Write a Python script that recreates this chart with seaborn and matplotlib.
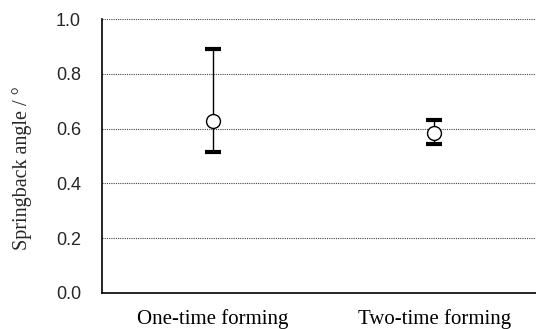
import numpy as np
import pandas as pd
import matplotlib
matplotlib.use('Agg')
import matplotlib.pyplot as plt
import seaborn as sns

# Data
methods = ['One-time forming', 'Two-time forming']
mean_angle = [0.628, 0.584]
upper_angle = [0.89, 0.631]
lower_angle = [0.515, 0.544]

df = pd.DataFrame({'Method': methods, 'Angle': mean_angle,
                   'Upper': upper_angle, 'Lower': lower_angle})

sns.set_theme(style='white')
plt.rcParams['font.family'] = ['Liberation Sans', 'DejaVu Sans']

fig, ax = plt.subplots(figsize=(5.36, 3.29), dpi=100)
fig.subplots_adjust(left=0.19, right=1.0, top=0.942, bottom=0.11)

# error bars (thin stem, thick caps)
pos = np.arange(len(df))
yerr = [df['Angle'] - df['Lower'], df['Upper'] - df['Angle']]
ax.errorbar(pos, df['Angle'], yerr=yerr, fmt='none', ecolor='black',
            elinewidth=1.0, capsize=5.5, capthick=3.0, zorder=3)

sns.scatterplot(data=df, x='Method', y='Angle', ax=ax, s=100, marker='o',
                facecolor='white', edgecolor='black', linewidth=1.0, zorder=4)

ax.set_ylim(0, 1.0)
ax.set_xlim(-0.5, 1.46)
ax.set_yticks([0.0, 0.2, 0.4, 0.6, 0.8, 1.0])
ax.set_yticklabels(['0.0', '0.2', '0.4', '0.6', '0.8', '1.0'], fontsize=13)
ax.yaxis.grid(True, linestyle=(0, (1, 1)), color='#444444', linewidth=0.8)
ax.set_axisbelow(True)

ax.set_xticks(pos)
ax.set_xticklabels(methods, family='Liberation Serif', fontsize=15)
ax.tick_params(axis='x', direction='in', length=4, width=0.8, colors='black', pad=12)
ax.tick_params(axis='y', length=0, pad=15)

ax.set_xlabel('')
ax.set_ylabel('Springback angle / °', family='Liberation Serif', fontsize=14.5)
ax.yaxis.set_label_coords(-0.16, 0.456)

for side in ['top', 'right']:
    ax.spines[side].set_visible(False)
ax.spines['left'].set_color('black')
ax.spines['bottom'].set_color('black')
ax.spines['left'].set_linewidth(1.2)
ax.spines['bottom'].set_linewidth(1.2)

fig.savefig('out.png', dpi=100)
